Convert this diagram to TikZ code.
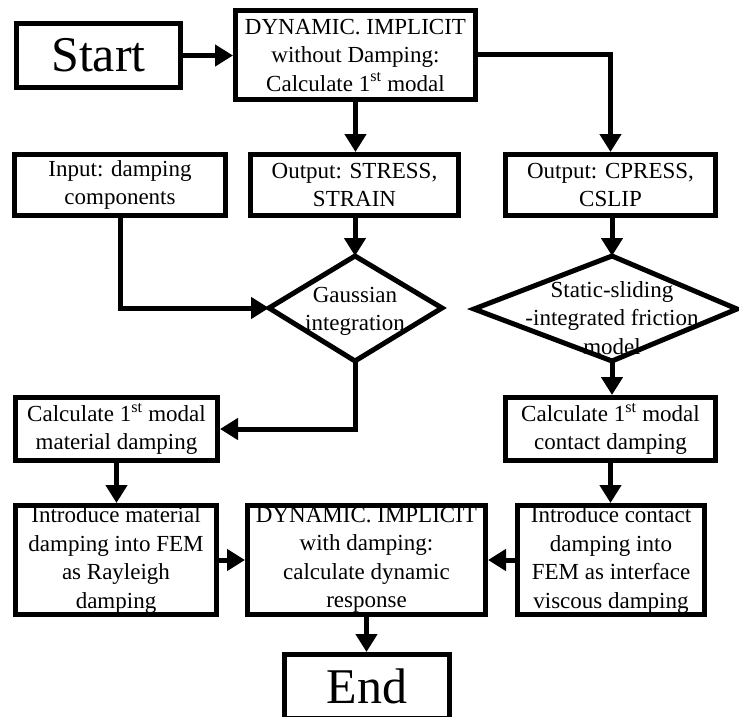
\documentclass[tikz,border=0pt]{standalone}
\usepackage{fontspec}
\setmainfont{Liberation Serif}
\usetikzlibrary{arrows.meta}
\begin{document}
\begin{tikzpicture}[x=1pt,y=-1pt,
  box/.style={draw,line width=5pt,rectangle,inner sep=0pt,align=center,font=\fontsize{23}{28.5}\selectfont},
  bigbox/.style={draw,line width=5pt,rectangle,inner sep=0pt,font=\fontsize{50}{56}\selectfont},
  txt/.style={inner sep=0pt,align=center,font=\fontsize{23}{28.5}\selectfont},
  shapeline/.style={line width=5pt,line join=miter},
  arr/.style={line width=5pt,-{Triangle[length=18pt,width=21pt]}},
]
\useasboundingbox (0,0) rectangle (739,717);

% boxes
\node[bigbox,minimum width=164pt,minimum height=64pt] (start) at (98.5,55.5) {Start};
\node[box,minimum width=240pt,minimum height=89pt] (dyn1) at (355.5,55) {DYNAMIC. IMPLICIT\\without Damping:\\Calculate 1\textsuperscript{st} modal};
\node[box,minimum width=211pt,minimum height=61pt] (input) at (120,185) {Input: damping\\components};
\node[box,minimum width=208pt,minimum height=61pt] (stress) at (354.5,185) {Output: STRESS,\\STRAIN};
\node[box,minimum width=210pt,minimum height=61pt] (cpress) at (610.5,185) {Output: CPRESS,\\CSLIP};
\node[box,minimum width=202pt,minimum height=63pt] (calcmat) at (116.5,429) {Calculate 1\textsuperscript{st} modal\\material damping};
\node[box,minimum width=210pt,minimum height=63pt] (calccon) at (610.5,429) {Calculate 1\textsuperscript{st} modal\\contact damping};
\node[box,minimum width=201pt,minimum height=109pt] (intmat) at (116,560) {Introduce material\\damping into FEM\\as Rayleigh\\damping};
\node[box,minimum width=238pt,minimum height=109pt] (dyn2) at (366.5,560) {DYNAMIC. IMPLICIT\\with damping:\\calculate dynamic\\response};
\node[box,minimum width=187pt,minimum height=109pt] (intcon) at (611,560) {Introduce contact\\damping into\\FEM as interface\\viscous damping};
\node[bigbox,minimum width=165pt,minimum height=64pt] (end) at (367,686.5) {End};

% diamonds
\coordinate (gL) at (269,308);
\coordinate (gT) at (355,256);
\coordinate (gR) at (442,308);
\coordinate (gB) at (355,361);
\draw[shapeline] (gL) -- (gT) -- (gR) -- (gB) -- cycle;
\node[txt] (gauss) at (355,311.5) {Gaussian\\integration};

\coordinate (sL) at (474,309);
\coordinate (sT) at (612,256);
\coordinate (sR) at (737,309);
\coordinate (sB) at (612,361);
\draw[shapeline] (sL) -- (sT) -- (sR) -- (sB) -- cycle;
\node[txt] (static) at (612,318) {Static-sliding\\-integrated friction\\model};

% connectors
\draw[arr] (start.east) -- (start.east -| dyn1.west);
\draw[arr] (dyn1.south) -- (dyn1.south |- stress.north);
\draw[arr] (dyn1.east) -| (cpress.north);
\draw[arr] (input.south) |- (gL);
\draw[arr] (gT |- stress.south) -- (gT);
\draw[arr] (gB) |- (calcmat.east);
\draw[arr] (sT |- cpress.south) -- (sT);
\draw[arr] (sB) -- (sB |- calccon.north);
\draw[arr] (calccon.south) -- (calccon.south |- intcon.north);
\draw[arr] (calcmat.south) -- (calcmat.south |- intmat.north);
\draw[arr] (intmat.east) -- (dyn2.west);
\draw[arr] (intcon.west) -- (dyn2.east);
\draw[arr] (dyn2.south) -- (dyn2.south |- end.north);
\end{tikzpicture}
\end{document}
